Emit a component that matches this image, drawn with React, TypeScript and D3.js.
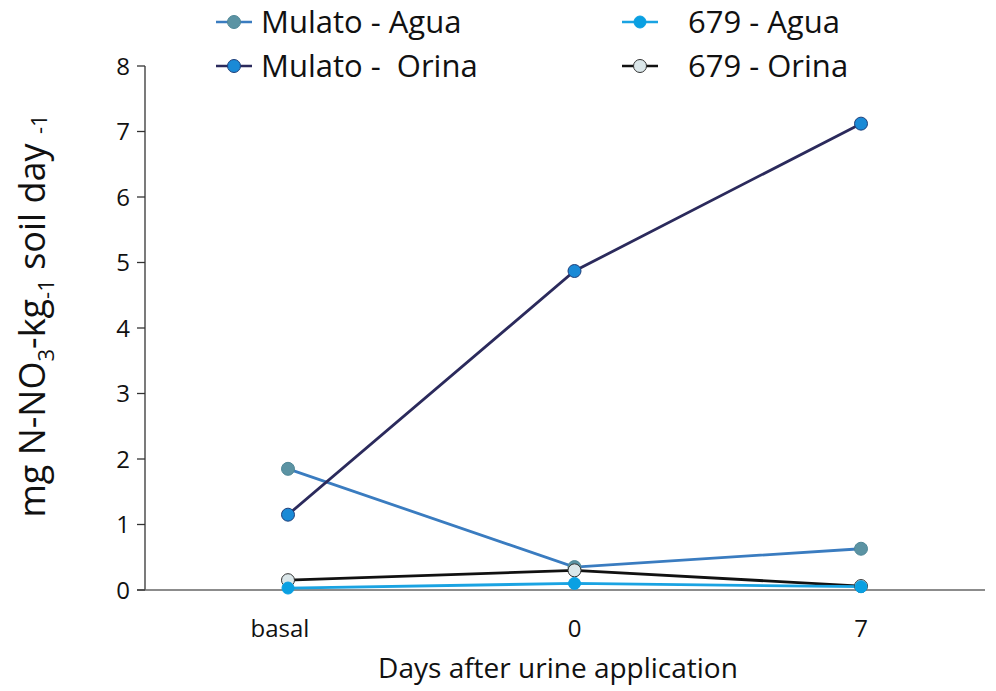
import React from "react";
import * as d3 from "d3";

const categories = ["basal", "0", "7"];
const yTicks = [0, 1, 2, 3, 4, 5, 6, 7, 8];
const mulatoAgua = [1.85, 0.35, 0.63];
const mulatoOrina = [1.15, 4.87, 7.12];
const agua679 = [0.03, 0.1, 0.05];
const orina679 = [0.15, 0.3, 0.06];

const seriesNames = ["Mulato - Agua", "Mulato -  Orina", "679 - Agua", "679 - Orina"];

const styles = [
  { line: "#3a7cc0", fill: "#5b93a3", stroke: "#4f8797", r: 6.5 },
  { line: "#2b2a5c", fill: "#1a8ad6", stroke: "#1f3f7a", r: 6.5 },
  { line: "#1aa3e2", fill: "#0aa0e2", stroke: "#0aa0e2", r: 6 },
  { line: "#111111", fill: "#dbe7ea", stroke: "#333", r: 6.5 },
];

export default function App() {
  const W = 996, H = 691;
  const x = d3.scalePoint<string>().domain(categories).range([288, 861]);
  const y = d3.scaleLinear().domain([0, 8]).range([590, 66]);
  const data = [mulatoAgua, mulatoOrina, agua679, orina679];
  const line = d3.line<number>().x((_, i) => x(categories[i])!).y((v) => y(v));
  const font = "'Open Sans', 'Noto Sans', sans-serif";
  const drawOrder = [0, 1, 3, 2];
  const legendPos = [
    { x: 216, y: 22 },
    { x: 216, y: 66 },
    { x: 622, y: 22 },
    { x: 622, y: 66 },
  ];
  return (
    <svg width={W} height={H} style={{ position: "absolute", left: 0, top: 0, background: "#fff" }} fontFamily={font}>
      <line x1={145} x2={145} y1={y(8)} y2={y(0)} stroke="#333" strokeWidth={1.3} />
      <line x1={137} x2={985} y1={y(0)} y2={y(0)} stroke="#666" strokeWidth={1.3} />
      {yTicks.map((t) => (
        <g key={t}>
          <line x1={137} x2={145} y1={y(t)} y2={y(t)} stroke="#333" strokeWidth={1.3} />
          <text x={130} y={y(t)} dy="0.36em" textAnchor="end" fontSize={24} fill="#111">{t}</text>
        </g>
      ))}
      {categories.map((c, i) => (
        <text key={c} x={x(c)! + (i === 0 ? -8 : 0)} y={637} textAnchor="middle" fontSize={24} fill="#111">{c}</text>
      ))}
      <text x={558} y={678} textAnchor="middle" fontSize={28} fill="#111">Days after urine application</text>
      <text transform="translate(45,316) rotate(-90)" textAnchor="middle" fontSize={36} fill="#111">
        mg N-NO<tspan fontSize={22} dy={9}>3</tspan><tspan dy={-9}>-kg</tspan><tspan fontSize={22} dy={9}>-1</tspan><tspan dy={-9}> soil day </tspan><tspan fontSize={22} dy={2}>-1</tspan>
      </text>
      {drawOrder.map((k) => (
        <path key={"l" + k} d={line(data[k])!} fill="none" stroke={styles[k].line} strokeWidth={2.8} />
      ))}
      {drawOrder.map((k) => (
        <g key={"m" + k}>
          {data[k].map((v, i) => (
            <circle key={i} cx={x(categories[i])!} cy={y(v)} r={styles[k].r} fill={styles[k].fill} stroke={styles[k].stroke} strokeWidth={1} />
          ))}
        </g>
      ))}
      {seriesNames.map((n, k) => (
        <g key={n} transform={`translate(${legendPos[k].x},${legendPos[k].y})`}>
          <line x1={0} x2={36} y1={0} y2={0} stroke={styles[k].line} strokeWidth={2.5} />
          <circle cx={18} cy={0} r={styles[k].r} fill={styles[k].fill} stroke={styles[k].stroke} strokeWidth={1} />
          <text x={k < 2 ? 45 : 66} y={0} dy="0.35em" fontSize={31} fill="#111" style={{ whiteSpace: "pre" }}>{n}</text>
        </g>
      ))}
    </svg>
  );
}
